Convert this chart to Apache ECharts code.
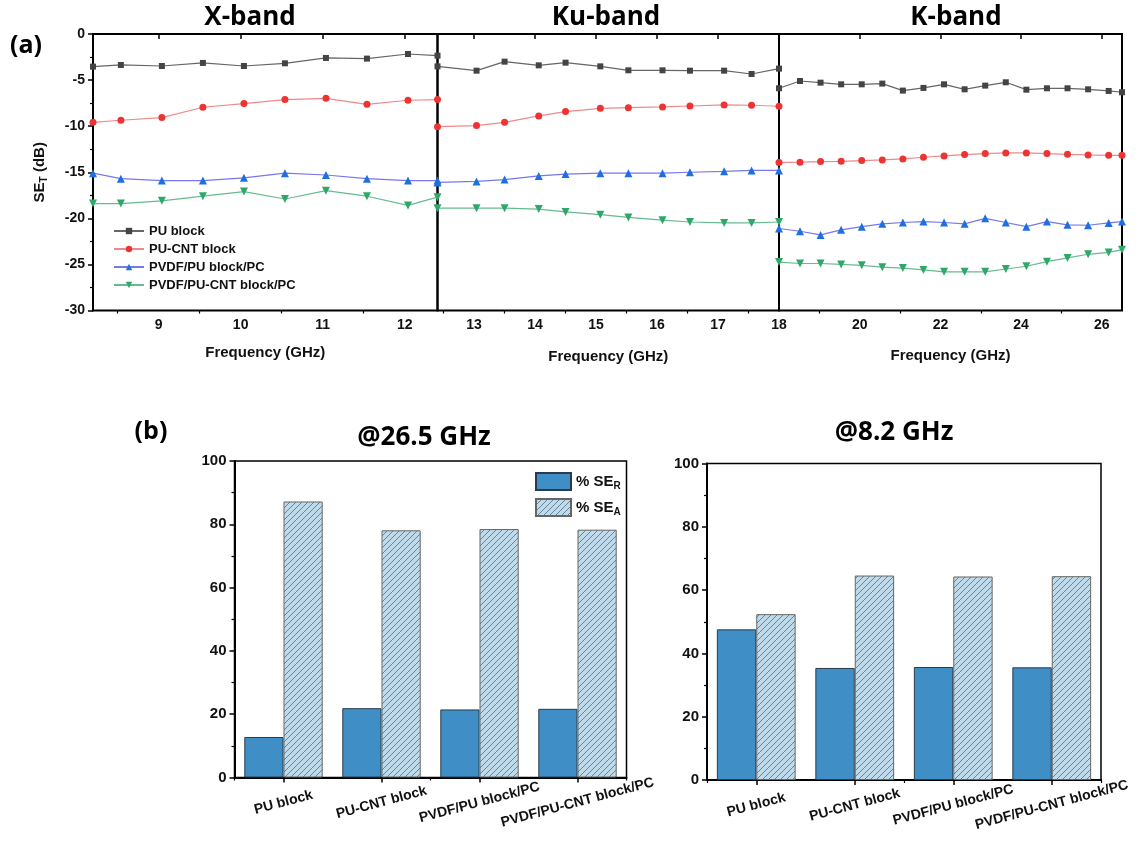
<!DOCTYPE html>
<html><head><meta charset="utf-8">
<script src="https://cdn.jsdelivr.net/npm/echarts@6/dist/echarts.min.js"></script>
<style>html,body{margin:0;padding:0;background:#fff}#c{width:1147px;height:845px}</style>
</head><body><div id="c"></div>
<script>
// ---------- data ----------
const seriesNames = ['PU block', 'PU-CNT block', 'PVDF/PU block/PC', 'PVDF/PU-CNT block/PC'];

const freqX = [8.2, 8.54, 9.04, 9.54, 10.04, 10.54, 11.04, 11.54, 12.04, 12.4];
const puX      = [-3.54, -3.36, -3.47, -3.14, -3.47, -3.18, -2.60, -2.67, -2.17, -2.35];
const pucntX   = [-9.58, -9.36, -9.07, -7.95, -7.55, -7.12, -6.98, -7.63, -7.19, -7.12];
const pvdfpuX  = [-15.1, -15.7, -15.9, -15.9, -15.6, -15.1, -15.3, -15.7, -15.9, -15.9];
const pvdfcntX = [-18.4, -18.4, -18.1, -17.6, -17.1, -17.9, -17.0, -17.6, -18.6, -17.7];

const freqKu = [12.4, 13.04, 13.5, 14.06, 14.5, 15.07, 15.53, 16.09, 16.54, 17.1, 17.55, 18];
const puKu      = [-3.51, -3.98, -3.0, -3.40, -3.11, -3.51, -3.94, -3.94, -3.98, -3.98, -4.34, -3.76];
const pucntKu   = [-10.05, -9.94, -9.58, -8.89, -8.42, -8.06, -7.99, -7.91, -7.81, -7.70, -7.73, -7.84];
const pvdfpuKu  = [-16.1, -16.0, -15.8, -15.4, -15.2, -15.1, -15.1, -15.1, -15.0, -14.9, -14.8, -14.8];
const pvdfcntKu = [-18.9, -18.9, -18.9, -19.0, -19.3, -19.6, -19.9, -20.2, -20.4, -20.5, -20.5, -20.4];

const freqK = [18, 18.52, 19.03, 19.54, 20.05, 20.56, 21.07, 21.58, 22.09, 22.6, 23.11, 23.62, 24.13, 24.64, 25.15, 25.66, 26.17, 26.5];
const puK      = [-5.89, -5.10, -5.28, -5.46, -5.46, -5.38, -6.14, -5.85, -5.46, -6.0, -5.60, -5.24, -6.04, -5.89, -5.89, -6.0, -6.18, -6.32];
const pucntK   = [-13.95, -13.91, -13.84, -13.81, -13.73, -13.66, -13.55, -13.37, -13.23, -13.08, -12.97, -12.90, -12.90, -12.97, -13.05, -13.12, -13.16, -13.16];
const pvdfpuK  = [-21.1, -21.4, -21.8, -21.25, -20.9, -20.6, -20.45, -20.35, -20.45, -20.6, -20.0, -20.45, -20.9, -20.35, -20.7, -20.75, -20.5, -20.35];
const pvdfcntK = [-24.75, -24.9, -24.9, -25.0, -25.1, -25.3, -25.4, -25.6, -25.8, -25.8, -25.8, -25.5, -25.2, -24.7, -24.3, -23.9, -23.7, -23.4];

const xLabelsX = [9, 10, 11, 12];
const xMinorX = [8.5, 9.5, 10.5, 11.5];
const xLabelsKu = [13, 14, 15, 16, 17];
const xTicksKu = [13, 14, 15, 16, 17, 18];
const xMinorKu = [12.5, 13.5, 14.5, 15.5, 16.5, 17.5];
const xLabelsK = [18, 20, 22, 24, 26];
const xMinorK = [19, 21, 23, 25];

const barCategories = ['PU block', 'PU-CNT block', 'PVDF/PU block/PC', 'PVDF/PU-CNT block/PC'];
const seR_265 = [12.8, 21.9, 21.5, 21.7];
const seA_265 = [87.2, 78.1, 78.5, 78.3];
const seR_82 = [47.6, 35.4, 35.7, 35.6];
const seA_82 = [52.4, 64.6, 64.3, 64.4];

// ---------- styles ----------
const FONT = '"Liberation Sans", Arial, sans-serif';
const TFONT = '"Open Sans", "Noto Sans", sans-serif';
const styles = [
  { symbol: 'rect', size: 6, rotate: 0, sym: '#444444', line: '#666666' },
  { symbol: 'circle', size: 7, rotate: 0, sym: '#ee3333', line: '#ef8a8a' },
  { symbol: 'triangle', size: 8, rotate: 0, sym: '#1f6fe0', line: '#7777ee' },
  { symbol: 'triangle', size: 8, rotate: 180, sym: '#2ea868', line: '#66bb90' }
];

function pairs(xs, ys) { return xs.map((x, i) => [x, ys[i]]); }

const lineSets = [
  [freqX, [puX, pucntX, pvdfpuX, pvdfcntX]],
  [freqKu, [puKu, pucntKu, pvdfpuKu, pvdfcntKu]],
  [freqK, [puK, pucntK, pvdfpuK, pvdfcntK]]
];

// hatch pattern
const pc = document.createElement('canvas');
pc.width = 6; pc.height = 6;
const ctx = pc.getContext('2d');
ctx.fillStyle = '#bfdaea';
ctx.fillRect(0, 0, 6, 6);
ctx.strokeStyle = '#5b7b8e';
ctx.lineWidth = 0.9;
ctx.beginPath();
ctx.moveTo(-1, 7); ctx.lineTo(7, -1);
ctx.moveTo(-4, 4); ctx.lineTo(4, -4);
ctx.moveTo(2, 10); ctx.lineTo(10, 2);
ctx.stroke();
const hatch = { image: pc, repeat: 'repeat' };

const axisLineBlack = { show: true, lineStyle: { color: '#000', width: 2 } };

// grids
const grids = [
  { left: 93, top: 34, width: 344.5, height: 276.5, show: true, borderColor: '#000', borderWidth: 2 },
  { left: 437.5, top: 34, width: 341.5, height: 276.5, show: true, borderColor: '#000', borderWidth: 2 },
  { left: 779, top: 34, width: 343, height: 276.5, show: true, borderColor: '#000', borderWidth: 2 },
  { left: 234.5, top: 461, width: 392, height: 316.5, show: true, borderColor: '#000', borderWidth: 1.5 },
  { left: 707, top: 463.5, width: 394, height: 316.5, show: true, borderColor: '#000', borderWidth: 1.5 }
];

const xAxes = [];
const yAxes = [];
function freqAxis(grid, min, max, labels, ticks, gap) {
  xAxes.push({
    type: 'value', gridIndex: grid, min: min, max: max,
    axisLine: axisLineBlack,
    axisTick: { show: true, length: 5, customValues: ticks, lineStyle: { color: '#000', width: 1.5 } },
    axisLabel: { customValues: labels, fontFamily: FONT, fontWeight: 'bold', fontSize: 14, color: '#111', margin: 8 },
    splitLine: { show: false },
    name: 'Frequency (GHz)', nameLocation: 'middle', nameGap: gap,
    nameTextStyle: { fontFamily: FONT, fontWeight: 'bold', fontSize: 15, color: '#111' }
  });
}
function minorAxis(grid, min, max, ticks) {
  xAxes.push({
    type: 'value', gridIndex: grid, min: min, max: max, position: 'bottom',
    axisLine: { show: false },
    axisTick: { show: true, length: 3, customValues: ticks, lineStyle: { color: '#000', width: 1.2 } },
    axisLabel: { show: false }, splitLine: { show: false }
  });
}
freqAxis(0, 8.2, 12.4, xLabelsX, xLabelsX, 35);     // 0
freqAxis(1, 12.4, 18, xLabelsKu, xTicksKu, 39);     // 1
freqAxis(2, 18, 26.5, xLabelsK, xLabelsK, 38);      // 2
minorAxis(0, 8.2, 12.4, xMinorX);                   // 3
minorAxis(1, 12.4, 18, xMinorKu);                   // 4
minorAxis(2, 18, 26.5, xMinorK);                    // 5

yAxes.push({
  type: 'value', gridIndex: 0, min: -30, max: 0, interval: 5,
  axisLine: axisLineBlack,
  axisTick: { show: true, length: 5, lineStyle: { color: '#000', width: 1.5 } },
  minorTick: { show: true, splitNumber: 2, length: 3, lineStyle: { color: '#000', width: 1.2 } },
  axisLabel: { fontFamily: FONT, fontWeight: 'bold', fontSize: 14, color: '#111', margin: 8 },
  splitLine: { show: false },
  name: '{a|SE}{b|T}{a| (dB)}', nameLocation: 'middle', nameGap: 44, nameRotate: 90,
  nameTextStyle: {
    rich: {
      a: { fontFamily: FONT, fontWeight: 'bold', fontSize: 15, color: '#111' },
      b: { fontFamily: FONT, fontWeight: 'bold', fontSize: 10, color: '#111', padding: [9, 0, 0, 0] }
    }
  }
});
[1, 2].forEach(g => yAxes.push({
  type: 'value', gridIndex: g, min: -30, max: 0, interval: 5,
  axisLine: { show: false }, axisTick: { show: false }, axisLabel: { show: false }, splitLine: { show: false }
}));

// bar axes
[3, 4].forEach(g => {
  xAxes.push({
    type: 'category', gridIndex: g, data: barCategories,
    axisLine: axisLineBlack,
    axisTick: { show: true, alignWithLabel: true, length: 5, lineStyle: { color: '#000', width: 1.5 } },
    axisLabel: { interval: 0, rotate: 15, align: 'center', verticalAlign: 'middle', margin: 25,
      fontFamily: FONT, fontWeight: 'bold', fontSize: 14, color: '#111' },
    splitLine: { show: false }
  });
});
[3, 4].forEach(g => {
  xAxes.push({
    type: 'category', gridIndex: g, data: barCategories, position: 'bottom',
    axisLine: { show: false },
    axisTick: { show: true, alignWithLabel: false, length: 3, lineStyle: { color: '#000', width: 1.2 } },
    axisLabel: { show: false }, splitLine: { show: false }
  });
});
[3, 4].forEach(g => yAxes.push({
  type: 'value', gridIndex: g, min: 0, max: 100, interval: 20,
  axisLine: axisLineBlack,
  axisTick: { show: true, length: 5, lineStyle: { color: '#000', width: 1.5 } },
  minorTick: { show: true, splitNumber: 2, length: 3, lineStyle: { color: '#000', width: 1.2 } },
  axisLabel: { fontFamily: FONT, fontWeight: 'bold', fontSize: 15, color: '#111', margin: 8 },
  splitLine: { show: false }
}));

// series
const series = [];
lineSets.forEach(([xs, sets], g) => {
  sets.forEach((ys, i) => {
    const s = styles[i];
    series.push({
      type: 'line', name: seriesNames[i], xAxisIndex: g, yAxisIndex: g,
      data: pairs(xs, ys), symbol: s.symbol, symbolSize: s.size, symbolRotate: s.rotate,
      showAllSymbol: true, clip: true, animation: false,
      itemStyle: { color: s.sym },
      lineStyle: { color: s.line, width: 1.2 }
    });
  });
});
const barSets = [[seR_265, seA_265], [seR_82, seA_82]];
barSets.forEach(([r, a], k) => {
  series.push({
    type: 'bar', name: 'SE_R', xAxisIndex: 6 + k, yAxisIndex: 3 + k, data: r,
    barGap: '0%', barCategoryGap: '20%', animation: false,
    itemStyle: { color: '#3f8fc6', borderColor: '#2b3b4b', borderWidth: 1 }
  });
  series.push({
    type: 'bar', name: 'SE_A', xAxisIndex: 6 + k, yAxisIndex: 3 + k, data: a,
    barGap: '0%', barCategoryGap: '20%', animation: false,
    itemStyle: { color: hatch, borderColor: '#666', borderWidth: 1 }
  });
});

function txt(x, y, t, size) {
  return { type: 'text', x: x, y: y, silent: true,
    style: { text: t, fontFamily: TFONT, fontWeight: 'bold', fontSize: size, fill: '#000', align: 'center', verticalAlign: 'middle' } };
}

const option = {
  backgroundColor: '#fff',
  animation: false,
  grid: grids,
  xAxis: xAxes,
  yAxis: yAxes,
  series: series,
  legend: [
    {
      data: seriesNames, orient: 'vertical', left: 108, top: 219,
      itemWidth: 30, itemHeight: 8, itemGap: 4,
      textStyle: { fontFamily: FONT, fontWeight: 'bold', fontSize: 13, color: '#111', lineHeight: 14 }
    },
    {
      data: ['SE_R', 'SE_A'], orient: 'vertical', left: 530, top: 467,
      itemWidth: 35, itemHeight: 17, itemGap: 7, icon: 'rect',
      formatter: n => '{a|% SE}{s|' + n.slice(3) + '}',
      textStyle: {
        rich: {
          a: { fontFamily: FONT, fontWeight: 'bold', fontSize: 15, color: '#111' },
          s: { fontFamily: FONT, fontWeight: 'bold', fontSize: 10, color: '#111', padding: [9, 0, 0, 0] }
        }
      }
    }
  ],
  graphic: [
    txt(250, 18, 'X-band', 26),
    txt(606, 18, 'Ku-band', 26),
    txt(956, 18, 'K-band', 26),
    txt(26, 46, '(a)', 25),
    txt(151, 432, '(b)', 25),
    txt(424, 438, '@26.5 GHz', 26),
    txt(894, 433, '@8.2 GHz', 26)
  ]
};

const chart = echarts.init(document.getElementById('c'), null, { renderer: 'canvas' });
chart.setOption(option);
</script>
</body></html>
